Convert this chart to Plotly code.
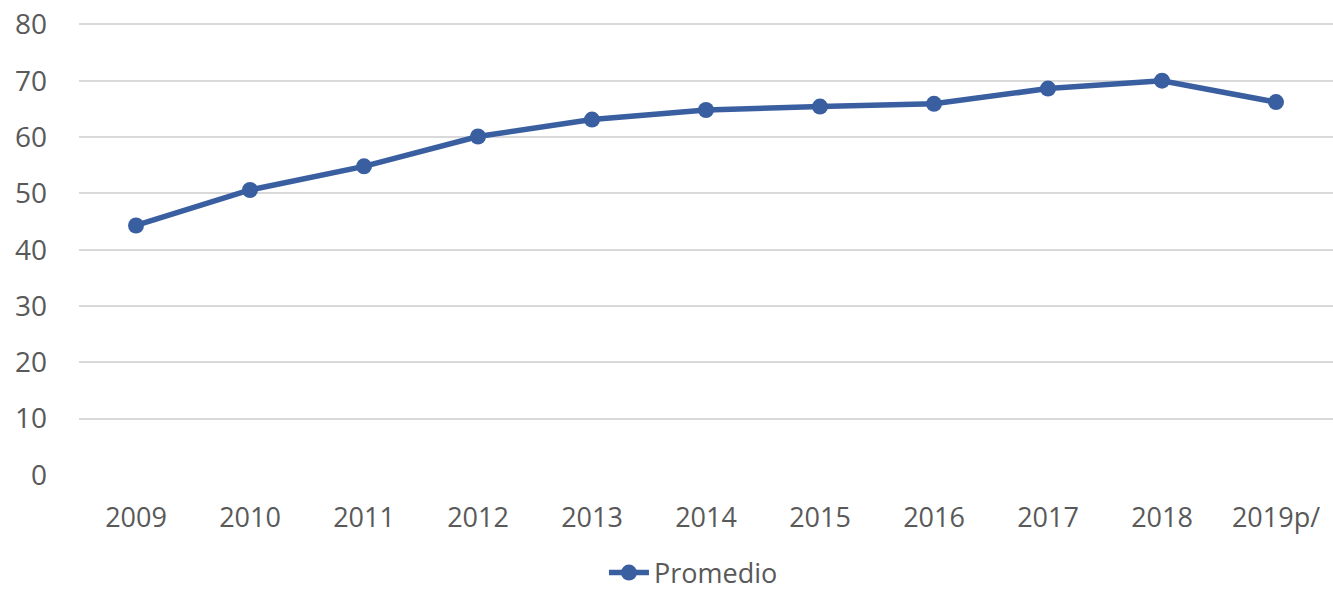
import plotly.graph_objects as go

years = ["2009", "2010", "2011", "2012", "2013", "2014", "2015", "2016", "2017", "2018", "2019p/"]
promedio = [44.3, 50.6, 54.8, 60.1, 63.1, 64.8, 65.4, 65.9, 68.6, 70.0, 66.2]
y_ticks = [0, 10, 20, 30, 40, 50, 60, 70, 80]

blue = "#3A5FA0"
txt = "#595959"

fig = go.Figure()
fig.add_trace(go.Scatter(
    x=years, y=promedio, name="Promedio", mode="lines+markers",
    line=dict(color=blue, width=5.5),
    marker=dict(color=blue, size=16),
))

fig.update_layout(
    width=1333, height=595,
    margin=dict(l=79, r=0, t=21, b=120, autoexpand=False),
    paper_bgcolor="white", plot_bgcolor="white",
    font=dict(family="Open Sans", color=txt, size=27),
    showlegend=True,
    legend=dict(orientation="h", x=0.49, xanchor="center", xref="paper",
                y=-0.162, yanchor="top", font=dict(size=27, color=txt),
                itemwidth=40),
    xaxis=dict(type="category", showgrid=False, zeroline=False, showline=False,
               automargin=False, range=[-0.5, len(years) - 0.5],
               ticks="", ticklabelstandoff=24, tickfont=dict(size=27, color=txt)),
    yaxis=dict(range=[0, 80.6], tickvals=y_ticks, showgrid=True, gridcolor="#D9D9D9",
               gridwidth=1.5, zeroline=False, showline=False, ticks="",
               automargin=False,
               ticklabelstandoff=31, tickfont=dict(size=28, color=txt)),
)

fig.write_html("out.html", config={"displayModeBar": False},
               post_script="document.body.style.margin='0';document.body.style.overflow='hidden';")
